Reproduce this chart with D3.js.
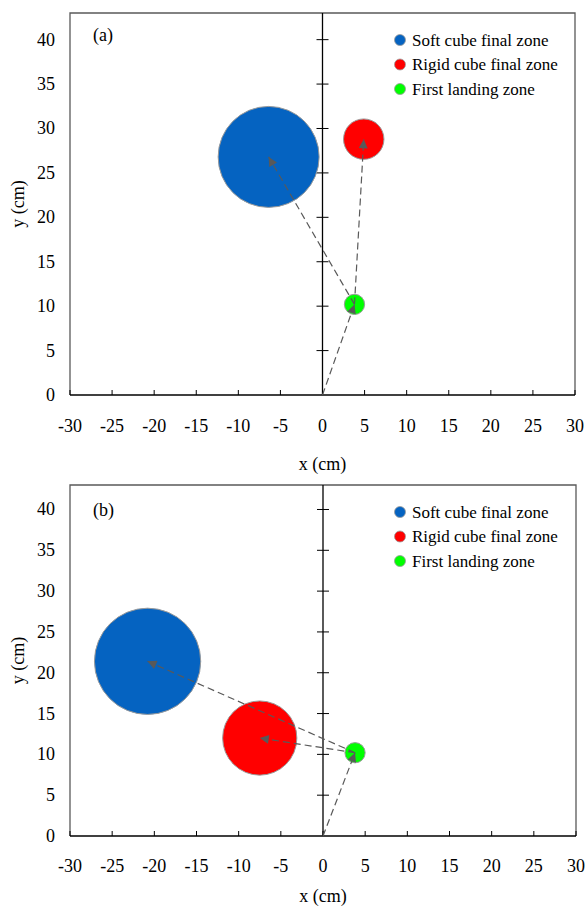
<!DOCTYPE html>
<html>
<head>
<meta charset="utf-8">
<script src="https://cdn.jsdelivr.net/npm/d3@7"></script>
<style>
  body { margin: 0; background: #fff; }
  svg { display: block; font-family: "Liberation Serif", "Times New Roman", serif; }
</style>
</head>
<body>
<svg id="chart" width="587" height="907"></svg>
<script>
// Zonas (ordem: mole, rigido, primeiro pouso)
const zoneNames  = ['Soft cube final zone', 'Rigid cube final zone', 'First landing zone'];
const zoneColors = ['#0563C1', '#FF0000', '#00FF00'];

const xTicks = [-30, -25, -20, -15, -10, -5, 0, 5, 10, 15, 20, 25, 30];
const yTicks = [0, 5, 10, 15, 20, 25, 30, 35, 40];

// Painel (a): centros e raios (cm)
const aX = [-6.4, 4.9, 3.8];
const aY = [26.8, 28.8, 10.2];
const aR = [6.0, 2.4, 1.2];

// Painel (b)
const bX = [-20.8, -7.5, 3.8];
const bY = [21.4, 12.0, 10.2];
const bR = [6.3, 4.4, 1.2];

const svg = d3.select('#chart');

// marcador de seta
svg.append('defs').append('marker')
  .attr('id', 'arrow')
  .attr('viewBox', '0 0 10 10')
  .attr('refX', 10).attr('refY', 5)
  .attr('markerWidth', 12).attr('markerHeight', 9)
  .attr('markerUnits', 'userSpaceOnUse')
  .attr('orient', 'auto')
  .append('path').attr('d', 'M0,0 L10,5 L0,10 Z').attr('fill', '#595959');

function drawPanel(box, label, xs, ys, rs) {
  const x = d3.scaleLinear().domain([-30, 30]).range([box.left, box.right]);
  const y = d3.scaleLinear().domain([0, 43]).range([box.bottom, box.top]);
  const g = svg.append('g');

  // moldura
  g.append('path')
    .attr('d', `M${box.left},${box.bottom} V${box.top} H${box.right} V${box.bottom}`)
    .attr('fill', 'none').attr('stroke', '#595959').attr('stroke-width', 1.3);

  // eixo x (em y=0) com ticks para dentro
  g.append('line')
    .attr('x1', x(-30)).attr('x2', x(30)).attr('y1', y(0)).attr('y2', y(0))
    .attr('stroke', '#000').attr('stroke-width', 1.3);
  g.selectAll('line.xt').data(xTicks).enter().append('line')
    .attr('x1', d => x(d)).attr('x2', d => x(d))
    .attr('y1', y(0)).attr('y2', y(0) - 5)
    .attr('stroke', '#000').attr('stroke-width', 1);
  g.selectAll('text.xl').data(xTicks).enter().append('text')
    .attr('x', d => x(d)).attr('y', y(0) + box.tickDy)
    .attr('text-anchor', 'middle')
    .attr('font-size', 18).text(d => d);

  // eixo y (em x=0) com ticks cruzando
  g.append('line')
    .attr('x1', x(0)).attr('x2', x(0)).attr('y1', y(0)).attr('y2', box.top)
    .attr('stroke', '#000').attr('stroke-width', 1.3);
  g.selectAll('line.yt').data(yTicks.slice(1)).enter().append('line')
    .attr('x1', x(0) - 6).attr('x2', x(0) + 6)
    .attr('y1', d => y(d)).attr('y2', d => y(d))
    .attr('stroke', '#000').attr('stroke-width', 1);
  g.selectAll('text.yl').data(yTicks).enter().append('text')
    .attr('x', box.left - 15).attr('y', d => y(d))
    .attr('text-anchor', 'end').attr('dominant-baseline', 'central')
    .attr('font-size', 18).text(d => d);

  // titulos
  g.append('text')
    .attr('x', x(0)).attr('y', y(0) + box.titleDy)
    .attr('text-anchor', 'middle')
    .attr('font-size', 18).text('x (cm)');
  g.append('text')
    .attr('transform', `translate(18,${(box.top + box.bottom) / 2}) rotate(-90)`)
    .attr('text-anchor', 'middle').attr('dominant-baseline', 'central')
    .attr('font-size', 18).text('y (cm)');
  g.append('text')
    .attr('x', box.left + 23).attr('y', box.top + box.labelDy)
    .attr('dominant-baseline', 'central')
    .attr('font-size', 18).text(label);

  // zonas
  const idx = [0, 1, 2];
  g.selectAll('circle.zone').data(idx).enter().append('circle')
    .attr('cx', i => x(xs[i])).attr('cy', i => y(ys[i]))
    .attr('r', i => x(rs[i]) - x(0))
    .attr('fill', i => zoneColors[i])
    .attr('stroke', '#9a9a9a').attr('stroke-width', 1);

  // setas: origem -> primeiro pouso, primeiro pouso -> finais
  const arrows = [[null, 2], [2, 0], [2, 1]];
  g.selectAll('line.arr').data(arrows).enter().append('line')
    .attr('x1', d => d[0] === null ? x(0) : x(xs[d[0]]))
    .attr('y1', d => d[0] === null ? y(0) : y(ys[d[0]]))
    .attr('x2', d => x(xs[d[1]]))
    .attr('y2', d => y(ys[d[1]]))
    .attr('stroke', '#595959').attr('stroke-width', 1.2)
    .attr('stroke-dasharray', '7,4')
    .attr('marker-end', 'url(#arrow)');

  // legenda
  const lg = g.selectAll('g.leg').data(idx).enter().append('g')
    .attr('transform', i => `translate(400,${box.top + 27 + i * 24.5})`);
  lg.append('circle').attr('r', 5.5).attr('fill', i => zoneColors[i])
    .attr('stroke', '#9a9a9a').attr('stroke-width', 0.8);
  lg.append('text').attr('x', 12).attr('dominant-baseline', 'central')
    .attr('font-size', 17).text(i => zoneNames[i]);
}

drawPanel({ left: 70, right: 575, top: 13, bottom: 395, labelDy: 22, tickDy: 37, titleDy: 75 }, '(a)', aX, aY, aR);
drawPanel({ left: 70, right: 576, top: 485, bottom: 836, labelDy: 25, tickDy: 36, titleDy: 66 }, '(b)', bX, bY, bR);
</script>
</body>
</html>
